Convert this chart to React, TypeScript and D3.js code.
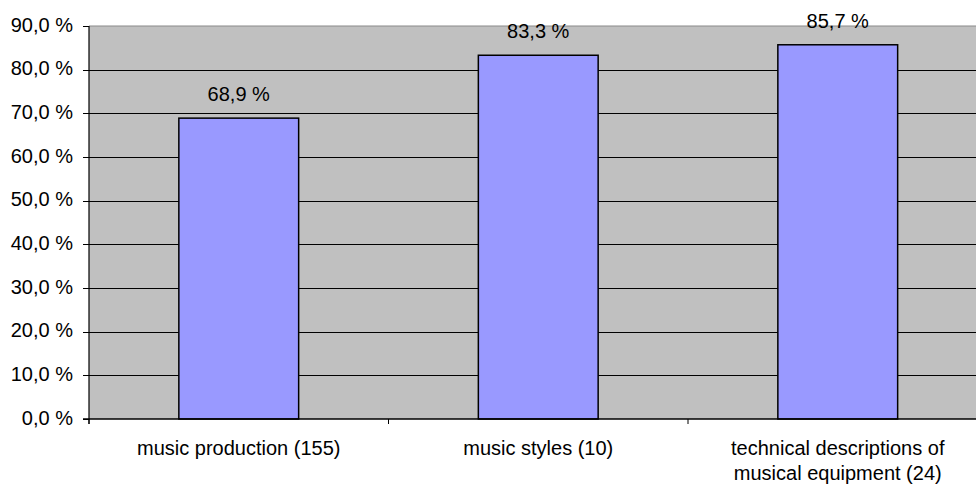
import React from "react";
import * as d3 from "d3";

const categories: string[][] = [
  ["music production (155)"],
  ["music styles (10)"],
  ["technical descriptions of", "musical equipment (24)"],
];
const values: number[] = [68.9, 83.3, 85.7];
const yTicks: number[] = [0, 10, 20, 30, 40, 50, 60, 70, 80, 90];

const W = 976;
const H = 486;
const plotLeft = 89;
const plotTop = 26;
const plotBottom = 419;
const bandWidth = 299.5;
const plotRight = plotLeft + bandWidth * categories.length;

const fmt = (v: number) => v.toFixed(1).replace(".", ",") + " %";

export default function App() {
  const x = d3
    .scaleBand<number>()
    .domain(d3.range(categories.length))
    .range([plotLeft, plotRight])
    .paddingInner(0.6)
    .paddingOuter(0.3);
  const y = d3.scaleLinear().domain([0, 90]).range([plotBottom, plotTop]);
  const font = "'Liberation Sans', Arial, sans-serif";
  const boundaries = d3.range(categories.length + 1).map((i) => plotLeft + i * bandWidth);

  return (
    <svg
      width={W}
      height={H}
      style={{ position: "absolute", left: 0, top: 0 }}
      fontFamily={font}
    >
      <rect x={0} y={0} width={W} height={H} fill="#fff" />
      <rect
        x={plotLeft}
        y={plotTop}
        width={plotRight - plotLeft}
        height={plotBottom - plotTop}
        fill="#c0c0c0"
      />
      <line x1={plotLeft} x2={plotRight} y1={plotTop} y2={plotTop} stroke="#8a8a8a" strokeWidth={1.2} />
      {yTicks.slice(1, -1).map((t) => (
        <line
          key={t}
          x1={plotLeft}
          x2={plotRight}
          y1={Math.round(y(t)) + 0.5}
          y2={Math.round(y(t)) + 0.5}
          stroke="#000"
          strokeWidth={1}
        />
      ))}
      {values.map((v, i) => (
        <rect
          key={i}
          x={x(i)}
          y={y(v)}
          width={x.bandwidth()}
          height={plotBottom - y(v)}
          fill="#9999ff"
          stroke="#000"
          strokeWidth={1.5}
        />
      ))}
      {values.map((v, i) => (
        <text
          key={i}
          x={(x(i) as number) + x.bandwidth() / 2}
          y={y(v) - 17}
          textAnchor="middle"
          fontSize={20}
          fill="#000"
        >
          {fmt(v)}
        </text>
      ))}
      {/* axes */}
      <line x1={plotLeft} x2={plotLeft} y1={plotTop} y2={plotBottom + 5} stroke="#000" strokeWidth={1.2} />
      <line x1={plotLeft - 6} x2={plotRight} y1={plotBottom} y2={plotBottom} stroke="#000" strokeWidth={1.5} />
      {yTicks.map((t) => (
        <g key={t}>
          <line
            x1={plotLeft - 6}
            x2={plotLeft}
            y1={Math.round(y(t)) + 0.5}
            y2={Math.round(y(t)) + 0.5}
            stroke="#000"
          />
          <text x={73} y={y(t) + 5.5} textAnchor="end" fontSize={20} fill="#000">
            {fmt(t)}
          </text>
        </g>
      ))}
      {boundaries.map((b, i) => (
        <line key={i} x1={b} x2={b} y1={plotBottom} y2={plotBottom + 5} stroke="#000" />
      ))}
      {categories.map((lines, i) =>
        lines.map((ln, j) => (
          <text
            key={i + "-" + j}
            x={(x(i) as number) + x.bandwidth() / 2}
            y={455 + j * 25}
            textAnchor="middle"
            fontSize={20}
            fill="#000"
          >
            {ln}
          </text>
        ))
      )}
    </svg>
  );
}
